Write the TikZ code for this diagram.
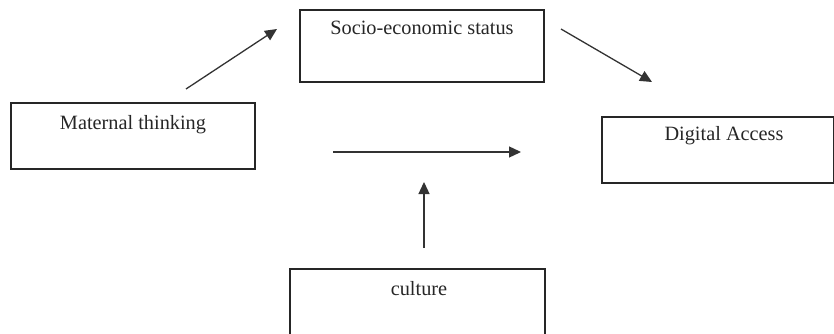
\documentclass[tikz,border=0pt]{standalone}
\usepackage{fontspec}
\setmainfont{Liberation Serif}
\usetikzlibrary{arrows.meta}
\begin{document}
\begin{tikzpicture}[x=1pt,y=-1pt,
  box/.style={draw=black!85, line width=1.8pt, inner sep=0pt},
  lbl/.style={font=\fontsize{20.3}{24}\selectfont, text=black!85, inner sep=0pt},
  arr/.style={draw=black!80, line width=1.3pt, -{Triangle[length=12pt,width=11pt]}}]
\clip (0,0) rectangle (834,334);
\useasboundingbox (0,0) rectangle (834,334);
\node[box, minimum width=244pt, minimum height=66pt] (mt) at (133,136) {};
\node[lbl] (mtl) at (133,125) {Maternal thinking};
\node[box, minimum width=244pt, minimum height=72pt] (ses) at (422,46) {};
\node[lbl] (sesl) at (422,28) {Socio-economic status};
\node[box, minimum width=232pt, minimum height=66pt] (da) at (718,150) {};
\node[lbl] (dal) at (724,136) {Digital Access};
\node[box, minimum width=255pt, minimum height=80pt] (cu) at (417.5,309) {};
\node[lbl] (cul) at (419,289) {culture};
\coordinate (a1s) at (186,89);
\coordinate (a1e) at (277,29);
\coordinate (a2s) at (561,29);
\coordinate (a2e) at (652,82);
\coordinate (a3s) at (333,152);
\coordinate (a3e) at (521,152);
\coordinate (a4s) at (424,248);
\coordinate (a4e) at (424,182);
\draw[arr] (a1s) -- (a1e);
\draw[arr] (a2s) -- (a2e);
\draw[arr] (a3s) -- (a3e);
\draw[arr] (a4s) -- (a4e);
\end{tikzpicture}
\end{document}
